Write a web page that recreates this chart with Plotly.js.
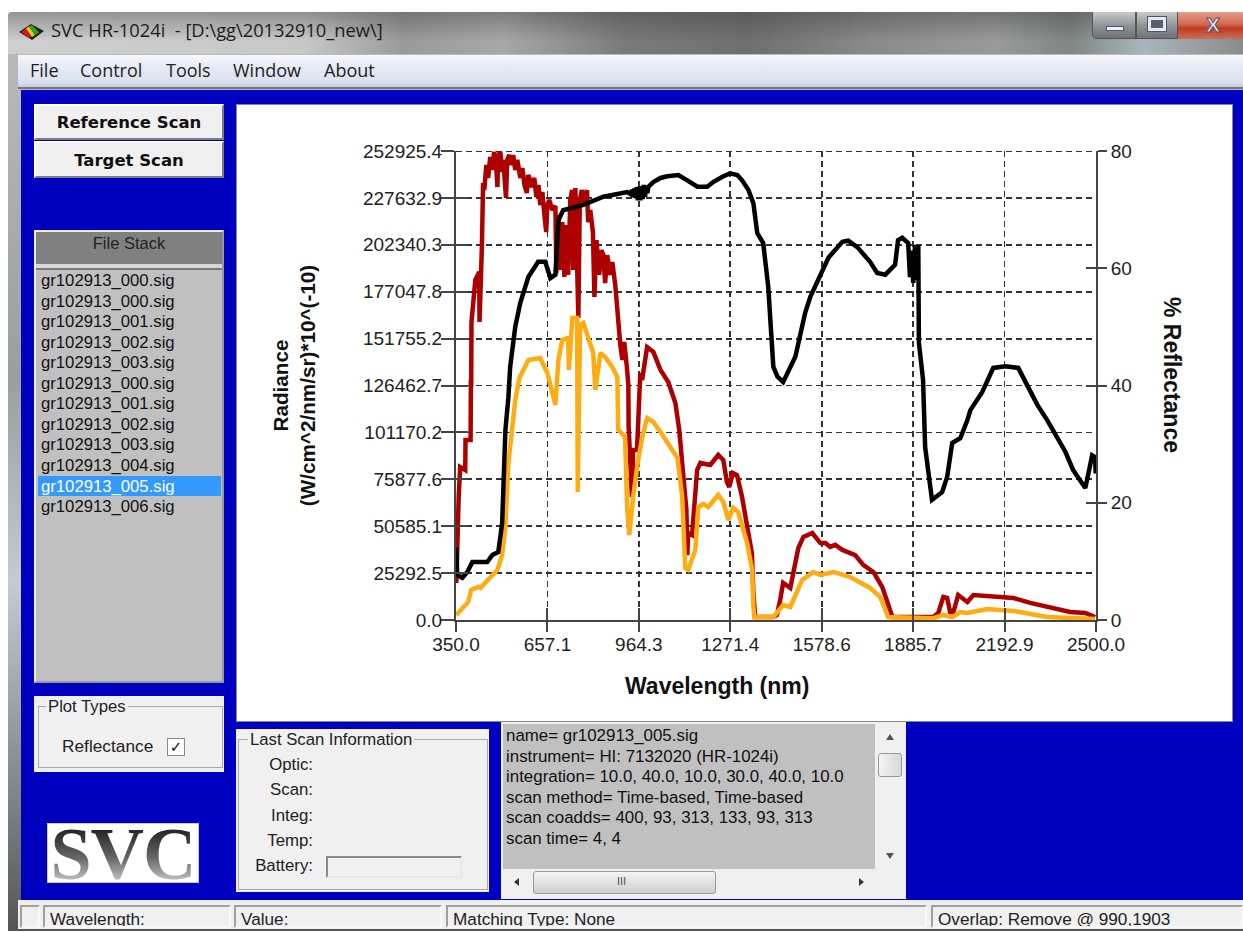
<!DOCTYPE html>
<html><head><meta charset="utf-8">
<script src="https://cdn.plot.ly/plotly-3.0.1.min.js"></script>
<style>
html,body{margin:0;padding:0;background:#fff;overflow:hidden}
#app{position:relative;width:1243px;height:933px;overflow:hidden;font-family:"Liberation Sans",Arial,sans-serif;color:#222}
.b{position:absolute;box-sizing:border-box}
.t{position:absolute;white-space:nowrap;line-height:1}
.raised{background:#f0f0f0;border:2px solid;border-color:#fff #7c7c86 #7c7c86 #fff}
.group{position:absolute;box-sizing:border-box;border:1px solid #a8a8a8}
.legend{position:absolute;background:#f0f0f0;padding:0 2px;font-size:16.7px;line-height:1;white-space:nowrap}
.sunk{position:absolute;box-sizing:border-box;border:2px solid;border-color:#a0a0a0 #f8f8f8 #f8f8f8 #a0a0a0;font-size:17.2px;padding:2px 0 0 5px;white-space:nowrap;color:#222;overflow:hidden}
.row{position:absolute;left:41px;font-size:16.7px;line-height:1;white-space:nowrap;color:#111}
.lab{position:absolute;right:930px;font-size:16.8px;line-height:1;white-space:nowrap}
.menu{font-family:'Open Sans';font-size:18px;top:61px}
</style></head><body>
<div id="app">
 <!-- window frame -->
 <div class="b" style="left:8px;top:12px;width:1235px;height:919px;background:linear-gradient(180deg,#bdbdbd 0,#9a9e9f 40%,#c3ccd0 62%,#7f8689 85%,#555 100%);border-radius:4px 0 0 0"></div>
 <!-- title bar -->
 <div class="b" style="left:8px;top:12px;width:1235px;height:42px;border-radius:4px 0 0 0;background:
   linear-gradient(180deg,rgba(60,60,60,.4) 0,rgba(120,120,120,0) 70%),
   linear-gradient(90deg,#cfcfcf 0,#c8c8c8 24%,#9a9a9a 32%,#a8a8a8 40%,#7a7a7a 50%,#6f6f6f 60%,#8a8a8a 70%,#9a9a9a 80%,#7f8684 86%,#a9b6bb 92%,#8a8c8c 100%)"></div>
 <svg class="b" style="left:18px;top:22px" width="28" height="20" viewBox="0 0 28 20">
  <polygon points="1,10 13,2 26,9 14,18" fill="#222"/>
  <polygon points="3,10 8,6.5 14,15 11,16" fill="#d01818"/>
  <polygon points="8,6.5 11,4.5 17,13 14,15" fill="#e8c810"/>
  <polygon points="11,4.5 14,3 21,10.5 17,13" fill="#2aa52a"/>
 </svg>
 <div class="t" style="left:51px;top:21px;font-family:'Open Sans';font-size:18.3px;color:#1c1c1c">SVC HR-1024i&nbsp; - [D:\gg\20132910_new\]</div>
 <!-- caption buttons -->
 <div class="b" style="left:1092px;top:12px;width:44px;height:27px;background:linear-gradient(180deg,#c9c9c9,#8e9193 55%,#6f7376);border:1px solid #555;border-top:0;border-radius:0 0 0 5px"></div>
 <div class="b" style="left:1106px;top:26px;width:18px;height:5px;background:#eef;border:1px solid #556"></div>
 <div class="b" style="left:1136px;top:12px;width:42px;height:27px;background:linear-gradient(180deg,#c9c9c9,#8e9193 55%,#6f7376);border:1px solid #555;border-top:0"></div>
 <div class="b" style="left:1148px;top:17px;width:18px;height:14px;background:#55606a;border:3px solid #e4e8f0;outline:1px solid #556"></div>
 <div class="b" style="left:1178px;top:12px;width:65px;height:27px;background:linear-gradient(180deg,#e89c88,#d26a50 45%,#c43a1e 60%,#c8705a)"></div>
 <div class="t" style="left:1206px;top:14px;font-size:21px;font-weight:bold;color:#eef;-webkit-text-stroke:1px #556">X</div>
 <!-- menu -->
 <div class="b" style="left:18px;top:55px;width:1225px;height:34px;background:linear-gradient(180deg,#f8f9fc 0,#e6ebf5 35%,#dbe1ef 85%,#c6ccd8 100%);border-bottom:2px solid #777"></div>
 <div class="t menu" style="left:30px">File</div>
 <div class="t menu" style="left:80px">Control</div>
 <div class="t menu" style="left:166px">Tools</div>
 <div class="t menu" style="left:233px">Window</div>
 <div class="t menu" style="left:324px">About</div>
 <!-- client -->
 <div class="b" style="left:21px;top:90px;width:1222px;height:810px;background:#0000c0"></div>
 <div class="b raised" style="left:34px;top:104px;width:190px;height:36px"></div>
 <div class="t" style="left:34px;width:190px;text-align:center;top:115px;font-family:'DejaVu Sans';font-weight:bold;font-size:16.5px;color:#111">Reference Scan</div>
 <div class="b raised" style="left:34px;top:141px;width:190px;height:37px"></div>
 <div class="t" style="left:34px;width:190px;text-align:center;top:153px;font-family:'DejaVu Sans';font-weight:bold;font-size:16.5px;color:#111">Target Scan</div>
 <!-- file stack -->
 <div class="b" style="left:34px;top:230px;width:190px;height:453px;background:#d8d8d8;border:2px solid;border-color:#eee #999 #999 #eee"></div>
 <div class="b" style="left:36px;top:232px;width:186px;height:32px;background:#808080"></div>
 <div class="t" style="left:34px;width:190px;text-align:center;top:235px;font-size:16.5px;color:#222">File Stack</div>
 <div class="b" style="left:36px;top:268px;width:186px;height:413px;background:#c0c0c0;border-top:2px solid #777"></div>
 <div class="b" style="left:38px;top:476px;width:183px;height:20px;background:#3399ff"></div>
 <div id="files"></div>
 <!-- plot types -->
 <div class="b" style="left:34px;top:696px;width:190px;height:76px;background:#f0f0f0"></div>
 <div class="group" style="left:38px;top:706px;width:185px;height:62px"></div>
 <div class="legend" style="left:46px;top:699px">Plot Types</div>
 <div class="t" style="left:62px;top:738px;font-size:17.3px">Reflectance</div>
 <div class="b" style="left:167px;top:738px;width:18px;height:18px;background:#fff;border:1px solid #888;font-size:15px;line-height:16px;text-align:center;font-family:'DejaVu Sans';font-weight:bold;color:#111">✓</div>
 <!-- logo -->
 <div class="b" style="left:47px;top:823px;width:152px;height:60px;background:#fff;border:1px solid #ccc"></div>
 <div class="t" id="logo" style="left:47px;width:152px;text-align:center;top:817px;font-family:'Liberation Serif';font-weight:bold;font-size:74px;letter-spacing:-1px;background:linear-gradient(180deg,#222 15%,#666 55%,#ccc 90%);-webkit-background-clip:text;background-clip:text;color:transparent">SVC</div>
 <!-- last scan -->
 <div class="b" style="left:236px;top:729px;width:253px;height:163px;background:#f0f0f0"></div>
 <div class="group" style="left:238px;top:739px;width:250px;height:151px"></div>
 <div class="legend" style="left:248px;top:732px">Last Scan Information</div>
 <div class="lab" style="top:757px">Optic:</div>
 <div class="lab" style="top:782px">Scan:</div>
 <div class="lab" style="top:808px">Integ:</div>
 <div class="lab" style="top:833px">Temp:</div>
 <div class="lab" style="top:858px">Battery:</div>
 <div class="b" style="left:326px;top:856px;width:136px;height:22px;border:2px solid;border-color:#8a8a8a #e8e8e8 #e8e8e8 #8a8a8a"></div>
 <!-- info text -->
 <div class="b" style="left:501px;top:722px;width:405px;height:177px;background:#f0f0f0"></div>
 <div class="b" style="left:503px;top:724px;width:372px;height:145px;background:#c0c0c0"></div>
 <div class="t" style="left:506px;top:726px;font-size:16.9px;line-height:20.5px;color:#111;white-space:pre">name= gr102913_005.sig
instrument= HI: 7132020 (HR-1024i)
integration= 10.0, 40.0, 10.0, 30.0, 40.0, 10.0
scan method= Time-based, Time-based
scan coadds= 400, 93, 313, 133, 93, 313
scan time= 4, 4</div>
 <div class="b" style="left:878px;top:753px;width:24px;height:24px;background:linear-gradient(90deg,#f4f4f4,#d8d8d8);border:1px solid #999;border-radius:3px"></div>
 <div class="b" style="left:533px;top:871px;width:183px;height:23px;background:linear-gradient(180deg,#f4f4f4,#cfcfcf);border:1px solid #999;border-radius:3px"></div>
 <div class="t" style="left:617px;top:876px;font-size:11px;color:#555">III</div>
 <div class="b" style="left:886px;top:734px;border:4px solid transparent;border-bottom:6px solid #555;border-top:0"></div>
 <div class="b" style="left:886px;top:853px;border:4px solid transparent;border-top:6px solid #555;border-bottom:0"></div>
 <div class="b" style="left:514px;top:878px;border:4px solid transparent;border-right:5px solid #333;border-left:0"></div>
 <div class="b" style="left:859px;top:878px;border:4px solid transparent;border-left:5px solid #333;border-right:0"></div>
 <!-- status bar -->
 <div class="b" style="left:18px;top:900px;width:1225px;height:29px;background:#f0f0f0"></div>
 <div class="sunk" style="left:20px;top:905px;width:20px;height:23px"></div>
 <div class="sunk" style="left:43px;top:905px;width:188px;height:23px">Wavelength:</div>
 <div class="sunk" style="left:234px;top:905px;width:208px;height:23px">Value:</div>
 <div class="sunk" style="left:446px;top:905px;width:481px;height:23px">Matching Type: None</div>
 <div class="sunk" style="left:931px;top:905px;width:312px;height:23px">Overlap: Remove @ 990,1903</div>
 <!-- plot -->
 <div class="b" style="left:236px;top:104px;width:997px;height:618px;background:#fff;border:1px solid #888"></div>
 <div id="plot" class="b" style="left:236px;top:104px;width:997px;height:618px"></div>
</div>
<script>
var fileNames = ["gr102913_000.sig","gr102913_000.sig","gr102913_001.sig","gr102913_002.sig","gr102913_003.sig","gr102913_000.sig","gr102913_001.sig","gr102913_002.sig","gr102913_003.sig","gr102913_004.sig","gr102913_005.sig","gr102913_006.sig"];
var xTicks = [350,657.1,964.3,1271.4,1578.6,1885.7,2192.9,2500];
var xTickText = ["350.0","657.1","964.3","1271.4","1578.6","1885.7","2192.9","2500.0"];
var yTicks = [0,25292.5,50585.1,75877.6,101170.2,126462.7,151755.2,177047.8,202340.3,227632.9,252925.4];
var yTickText = ["0.0","25292.5","50585.1","75877.6","101170.2","126462.7","151755.2","177047.8","202340.3","227632.9","252925.4"];
var reflTicks = [0,20,40,60,80];

var redWl = [351,353,359,364,381,382,399,400,401,402,408,415,428,429,437,441,445,452,458,465,472,478,485,489,492,499,505,509,518,522,529,536,542,549,556,566,573,580,588,593,605,613,620,627,633,640,647,653,657,663,674,684,687,694,701,707,714,721,727,734,740,744,751,758,761,766,773,781,790,794,801,810,815,822,831,838,845,851,858,868,875,885,895,902,909,915,924,929,930,941,945,958,962,969,975,992,1013,1037,1063,1087,1100,1113,1124,1127,1130,1143,1160,1171,1204,1231,1248,1260,1268,1280,1294,1311,1327,1344,1349,1355,1416,1428,1439,1449,1473,1490,1500,1517,1547,1574,1591,1607,1624,1648,1691,1718,1752,1782,1799,1816,1953,1970,1987,2000,2010,2021,2037,2068,2088,2145,2222,2279,2356,2413,2464,2497];
var redRad = [20000,39400,66300,82500,80900,97100,97100,129400,125700,160700,170900,183400,187700,160700,201700,235700,231900,245400,238400,249700,242700,252400,245400,233500,250800,252400,241600,248100,227600,248100,250800,245400,250800,242700,248100,238400,243800,234600,230300,240000,233500,238400,228100,234600,223800,230800,218400,209200,223800,226500,221100,223300,187100,218400,188800,214600,185000,213000,186100,226500,231900,188800,233000,172600,162900,226500,231900,223800,231900,214600,221100,209200,174200,204900,186100,199500,196800,181700,196800,186100,193100,180700,158000,148300,140200,149900,136400,126700,104000,66300,91700,91700,106200,133200,129400,147200,144600,134800,128400,117000,102500,77100,59300,35000,47000,45800,80900,84700,83600,89000,86300,74500,71700,79300,78200,66300,52300,36000,14500,1600,1600,2700,10800,20000,17300,32400,38800,44800,46900,41500,41500,39400,40500,37800,35000,29700,25900,17800,9200,1600,1600,3800,12400,11900,4300,4300,13500,9700,13500,13000,11900,9200,6500,4300,3800,1600];

var orangeWl = [351,391,401,425,432,489,505,516,526,539,549,563,593,633,657,684,694,707,727,729,741,757,759,764,767,778,794,811,818,835,851,875,892,893,895,918,925,932,945,962,976,992,1013,1037,1070,1094,1110,1114,1120,1130,1154,1164,1181,1197,1231,1248,1265,1281,1298,1328,1345,1349,1352,1416,1449,1473,1513,1550,1574,1618,1674,1741,1775,1802,1953,1987,2018,2044,2068,2135,2222,2336,2497];
var orangeRad = [2700,9700,16200,17800,17300,27000,35100,50200,84700,104100,118600,130500,140200,141300,133200,116000,140200,151000,152100,134800,162900,162900,69000,127800,159100,160200,152600,144000,124000,144000,141800,136400,131000,111600,102500,98700,60400,45800,66300,86300,98700,108900,106800,101400,93300,87400,66300,46900,28000,27000,37800,60900,62600,60900,67400,63600,53900,60400,58200,41500,27000,8000,1600,1600,8100,7000,21600,25900,24300,25900,23200,17300,12400,1600,1000,2700,1600,4300,3800,5900,4900,1600,500];

var blackWl = [351,354,371,388,405,455,472,492,505,509,516,526,532,549,566,593,626,650,667,684,694,710,778,845,925,938,941,945,949,953,957,961,965,969,973,977,981,985,989,993,996,1013,1037,1060,1097,1120,1137,1161,1194,1214,1245,1271,1295,1311,1332,1349,1362,1382,1399,1406,1416,1430,1449,1490,1507,1523,1540,1574,1601,1648,1668,1698,1741,1765,1792,1825,1835,1849,1869,1875,1880,1886,1892,1896,1900,1903,1905,1919,1926,1936,1949,1983,2000,2017,2044,2068,2078,2118,2138,2155,2195,2239,2256,2272,2303,2336,2370,2397,2423,2440,2464,2477,2487,2497,2499];
var blackPct = [12.4,7.7,7.2,8.2,9.9,9.9,11.1,11.6,16.5,22.7,32.4,38,43.2,50,54.1,58.5,61.1,61.1,58.3,58.9,68.2,69.9,70.8,72.2,73,72.6,73.4,72.3,73.6,72,73.8,71.6,73.9,71.6,74,71.8,74.2,72.2,74,72.8,73.9,74.7,75.4,75.7,75.9,75.2,74.7,73.9,73.9,74.7,75.6,76.2,75.9,75,73.4,71.1,66,64.3,56.8,51.2,43.2,41.5,40.6,44.9,49,52.4,55.1,58.9,61.8,64.5,64.7,63.6,61.1,59.2,58.9,60.6,64.8,65.2,64.3,58.5,63,57.5,64,58,63.8,64,47.3,41,29.5,26.1,20.5,21.8,24.4,30.2,31,34.1,35.8,38.9,40.9,43,43.3,43,41.3,39.7,36.7,34.1,31,28.7,25.6,24.4,22.5,25.6,28.1,27.8,25];

var box = document.getElementById('files');
fileNames.forEach(function(n,i){
  var d = document.createElement('div');
  d.className = 'row';
  d.textContent = n;
  d.style.top = (273 + i*20.55) + 'px';
  if (i === 10) d.style.color = '#fff';
  box.appendChild(d);
});

var axisColor = '#444';
var gridDash = '6px,4px';
var tickFont = {family:'Liberation Sans, Arial, sans-serif', size:19, color:'#222'};
var titleFont = {family:'Liberation Sans, Arial, sans-serif', size:20.7, color:'#111'};
var bigTitleFont = {family:'Liberation Sans, Arial, sans-serif', size:23, color:'#111'};
var traces = [
  {x:redWl, y:redRad, type:'scatter', mode:'lines', line:{color:'#ad0000', width:4.5}, xaxis:'x', yaxis:'y', hoverinfo:'skip'},
  {x:orangeWl, y:orangeRad, type:'scatter', mode:'lines', line:{color:'#ffab12', width:4.5}, xaxis:'x', yaxis:'y', hoverinfo:'skip'},
  {x:blackWl, y:blackPct, type:'scatter', mode:'lines', line:{color:'#000000', width:4.5}, xaxis:'x', yaxis:'y2', hoverinfo:'skip'},
  {x:[], y:[], type:'scatter', mode:'lines', xaxis:'x2', yaxis:'y3', hoverinfo:'skip'},
  {x:[], y:[], type:'scatter', mode:'lines', xaxis:'x2', yaxis:'y4', hoverinfo:'skip'}
];
var layout = {
  width:997, height:618,
  margin:{l:219.7, r:137.3, t:47, b:102, pad:0},
  paper_bgcolor:'rgba(0,0,0,0)', plot_bgcolor:'#fff',
  showlegend:false,
  xaxis:{range:[350,2500], tickmode:'array', tickvals:xTicks, ticktext:xTickText, tickfont:tickFont,
    ticks:'outside', ticklen:10, tickwidth:2, tickcolor:axisColor, showline:true, linecolor:axisColor, linewidth:2,
    showgrid:true, gridcolor:'#333', griddash:gridDash, gridwidth:1.8, zeroline:false, ticklabelstandoff:-4,
    fixedrange:true},
  yaxis:{range:[0,252925.4], tickmode:'array', tickvals:yTicks, ticktext:yTickText, tickfont:tickFont,
    ticks:'outside', ticklen:13, tickwidth:2, tickcolor:axisColor, showline:true, linecolor:axisColor, linewidth:2,
    showgrid:true, gridcolor:'#333', griddash:gridDash, gridwidth:1.8, zeroline:false,
    ticklabelstandoff:-5,
    title:{text:'<b>Radiance<br>(W/cm^2/nm/sr)*10^(-10)</b>', font:titleFont, standoff:42}, fixedrange:true},
  yaxis2:{range:[0,80], overlaying:'y', side:'right', anchor:'x', tickmode:'array', tickvals:reflTicks, tickfont:tickFont,
    ticks:'outside', ticklen:9, tickwidth:2, tickcolor:axisColor, showline:true, linecolor:axisColor, linewidth:2,
    showgrid:false, zeroline:false, fixedrange:true},
  xaxis2:{range:[350,2500], overlaying:'x', anchor:'y', side:'bottom', tickmode:'array', tickvals:xTicks, showticklabels:false,
    ticks:'inside', ticklen:12, tickwidth:2, tickcolor:axisColor, showgrid:false, zeroline:false, showline:false, fixedrange:true},
  yaxis3:{range:[0,252925.4], overlaying:'y', anchor:'x2', side:'left', tickmode:'array', tickvals:yTicks, showticklabels:false,
    ticks:'inside', ticklen:12, tickwidth:2, tickcolor:axisColor, showgrid:false, zeroline:false, showline:false, fixedrange:true},
  yaxis4:{range:[0,80], overlaying:'y', anchor:'x2', side:'right', tickmode:'array', tickvals:reflTicks, showticklabels:false,
    ticks:'inside', ticklen:10, tickwidth:2, tickcolor:axisColor, showgrid:false, zeroline:false, showline:false, fixedrange:true},
  shapes:[{type:'line', xref:'paper', yref:'y', x0:0, x1:1, y0:yTicks[yTicks.length-1], y1:yTicks[yTicks.length-1],
    line:{color:'#333', width:1.8, dash:gridDash}, layer:'below'}],
  annotations:[
    {text:'<b>Wavelength (nm)</b>', xref:'paper', yref:'paper', x:0.408, y:-0.141, showarrow:false, font:bigTitleFont, xanchor:'center', yanchor:'middle'},
    {text:'<b>% Reflectance</b>', xref:'paper', yref:'paper', x:1.119, y:0.522, showarrow:false, font:bigTitleFont, textangle:90, xanchor:'center', yanchor:'middle'}
  ]
};
Plotly.newPlot('plot', traces, layout, {displayModeBar:false, staticPlot:true});
</script>
</body></html>
